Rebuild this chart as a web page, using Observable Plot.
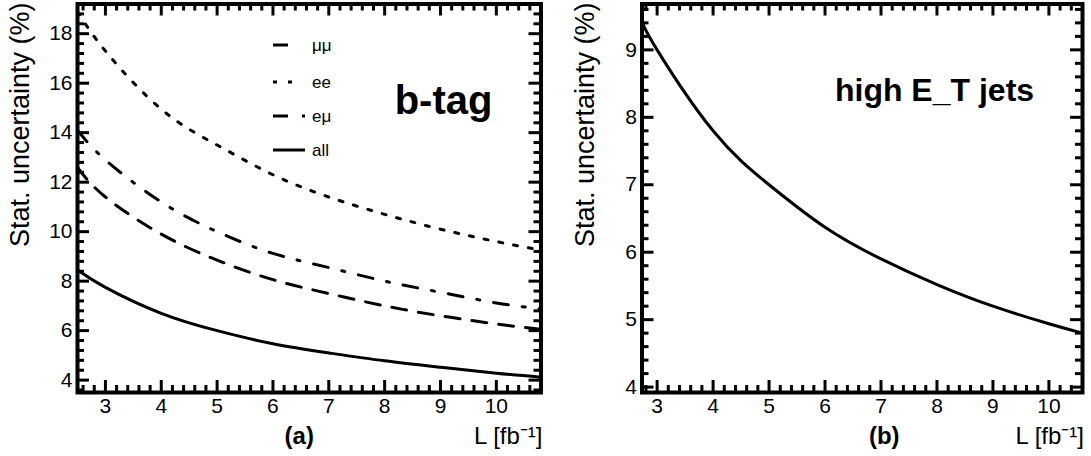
<!DOCTYPE html>
<html><head><meta charset="utf-8">
<script src="https://cdn.jsdelivr.net/npm/d3@7"></script>
<script src="https://cdn.jsdelivr.net/npm/@observablehq/plot@0.6"></script>
<style>
html,body{margin:0;padding:0;background:#fff;}
#wrap{position:relative;width:1091px;height:456px;overflow:hidden;background:#fff;font-family:"Liberation Sans",Arial,sans-serif;}
#wrap svg{position:absolute;top:0;}
</style></head><body><div id="wrap"></div>
<script>
// ---------- data ----------
const lumiA = [2.5, 3, 4, 5, 6, 7, 8, 9, 10, 10.8];
const mumuA = [12.6, 11.4, 9.9, 8.85, 8.06, 7.5, 7.0, 6.6, 6.27, 6.05];
const eeA   = [18.9, 17.3, 14.95, 13.5, 12.3, 11.4, 10.7, 10.1, 9.6, 9.25];
const emuA  = [14.1, 12.9, 11.2, 10.0, 9.12, 8.55, 8.0, 7.55, 7.12, 6.88];
const allA  = [8.45, 7.75, 6.7, 6.0, 5.47, 5.1, 4.78, 4.52, 4.28, 4.12];

const lumiB = [2.73, 3, 4, 5, 6, 7, 8, 9, 10, 10.6];
const jetsB = [9.42, 9.0, 7.8, 7.0, 6.37, 5.9, 5.52, 5.2, 4.94, 4.8];

const seriesNamesA = ["μμ", "ee", "eμ", "all"];
const xTickLabels = [3, 4, 5, 6, 7, 8, 9, 10];
const yTicksA = [4, 6, 8, 10, 12, 14, 16, 18];
const yTicksB = [4, 5, 6, 7, 8, 9];
const yLabel = "Stat. uncertainty (%)";
const xLabel = "L [fb⁻¹]";
const panelTitles = ["(a)", "(b)"];
const insetTexts = ["b-tag", "high E_T jets"];

// ---------- styles ----------
const FONT = "'Liberation Sans', Arial, Helvetica, sans-serif";
const dashes = {"μμ": "15,12", "ee": "4,11", "eμ": "15,14,3,14", "all": null};
const legendLen = {"μμ": 27, "ee": 30, "eμ": 32, "all": 32};
const seriesA = [
  {name: "μμ", values: mumuA},
  {name: "ee", values: eeA},
  {name: "eμ", values: emuA},
  {name: "all", values: allA}
];

const wrap = document.getElementById("wrap");

function panel(cfg) {
  const height = 456, marginTop = 3.5, marginBottom = 64;
  const innerH = height - marginTop - marginBottom;
  const innerW = cfg.width - cfg.marginLeft - cfg.marginRight;
  const majorLen = 12, minorLen = 7;
  const [x0, x1] = cfg.xDomain, [y0, y1] = cfg.yDomain;
  const xMaj = xTickLabels.filter(v => v >= x0 && v <= x1);
  const xMin = d3.range(2.2, 11.01, 0.2).map(v => +v.toFixed(2)).filter(v => v > x0 && v < x1 && !xMaj.includes(v));
  const yMaj = cfg.yTicks.filter(v => v >= y0 && v <= y1);
  const yMin = d3.range(2, 20.01, cfg.yMinorStep).map(v => +v.toFixed(2)).filter(v => v > y0 && v < y1 && !yMaj.includes(v));
  const marks = [];
  for (const s of cfg.series) {
    const data = s.values.map((v, i) => ({L: cfg.lumi[i], v}));
    marks.push(Plot.line(data, {x: "L", y: "v", stroke: "black", strokeWidth: 3,
      strokeDasharray: dashes[s.name] || undefined, curve: "natural", clip: true}));
  }
  const tick = {stroke: "black", strokeWidth: 3};
  marks.push(
    Plot.ruleX(xMaj, {x: d => d, insetTop: innerH - majorLen, ...tick}),
    Plot.ruleX(xMaj, {x: d => d, insetBottom: innerH - majorLen, ...tick}),
    Plot.ruleX(xMin, {x: d => d, insetTop: innerH - minorLen, ...tick}),
    Plot.ruleX(xMin, {x: d => d, insetBottom: innerH - minorLen, ...tick}),
    Plot.ruleY(yMaj, {y: d => d, insetRight: innerW - majorLen, ...tick}),
    Plot.ruleY(yMaj, {y: d => d, insetLeft: innerW - majorLen, ...tick}),
    Plot.ruleY(yMin, {y: d => d, insetRight: innerW - minorLen, ...tick}),
    Plot.ruleY(yMin, {y: d => d, insetLeft: innerW - minorLen, ...tick}),
    Plot.frame({stroke: "black", strokeWidth: 4}),
    Plot.axisX(xMaj, {tickSize: 0, tickPadding: 6, fontSize: 21, label: null, tickFormat: d => String(d)}),
    Plot.axisY(yMaj, {tickSize: 0, tickPadding: 5, fontSize: 21, label: null, tickFormat: d => String(d)}),
    Plot.text([yLabel], {text: d => d, frameAnchor: "top-left", rotate: -90, textAnchor: "end",
      lineAnchor: "bottom", dx: cfg.yLabelDx, dy: -1.5, fontSize: 27}),
    Plot.text([xLabel], {text: d => d, frameAnchor: "bottom-right", textAnchor: "end",
      lineAnchor: "bottom", dx: 1.5, dy: 51, fontSize: 24}),
    Plot.text([cfg.title], {text: d => d, frameAnchor: "bottom", textAnchor: "middle",
      lineAnchor: "bottom", dx: cfg.titleDx, dy: 51, fontSize: 24, fontWeight: "bold"}),
    Plot.text([cfg.inset], {text: d => d, frameAnchor: "top-left", textAnchor: "middle",
      lineAnchor: "bottom", dx: cfg.insetDx, dy: cfg.insetDy, fontSize: cfg.insetSize, fontWeight: "bold"})
  );
  const svg = Plot.plot({
    width: cfg.width, height,
    marginLeft: cfg.marginLeft, marginRight: cfg.marginRight, marginTop, marginBottom,
    x: {domain: cfg.xDomain},
    y: {domain: cfg.yDomain},
    style: {fontFamily: FONT, fontSize: "21px", color: "black", background: "transparent", overflow: "visible"},
    marks
  });
  svg.style.left = cfg.left + "px";
  wrap.appendChild(svg);
}

panel({left: 0, width: 545, marginLeft: 77, marginRight: 4.5,
  xDomain: [2.5, 10.8], yDomain: [3.5, 19.2], yTicks: yTicksA, yMinorStep: 0.4,
  lumi: lumiA, series: seriesA, yLabelDx: -49, title: panelTitles[0], titleDx: -10,
  inset: insetTexts[0], insetDx: 366, insetDy: 109.5, insetSize: 40});

panel({left: 545, width: 546, marginLeft: 96.5, marginRight: 9,
  xDomain: [2.73, 10.6], yDomain: [3.92, 9.68], yTicks: yTicksB, yMinorStep: 0.2,
  lumi: lumiB, series: [{name: "all", values: jetsB}], yLabelDx: -48.5, title: panelTitles[1], titleDx: 22,
  inset: insetTexts[1], insetDx: 292.5, insetDy: 96.5, insetSize: 32});

// ---------- legend overlay (panel a) ----------
const leg = d3.select(wrap).append("svg")
  .attr("width", 1091).attr("height", 456)
  .style("left", "0px").style("pointer-events", "none");
const legRowY = [45, 82, 116, 150];
seriesNamesA.forEach((name, i) => {
  const g = leg.append("g").attr("transform", `translate(273,${legRowY[i]})`);
  g.append("line").attr("x1", 0).attr("x2", legendLen[name]).attr("y1", 0).attr("y2", 0)
    .attr("stroke", "black").attr("stroke-width", 3)
    .attr("stroke-dasharray", dashes[name] || null);
  g.append("text").attr("x", 39).attr("y", 6)
    .attr("font-family", FONT).attr("font-size", 17).attr("fill", "black").text(name);
});
</script>
</body></html>
